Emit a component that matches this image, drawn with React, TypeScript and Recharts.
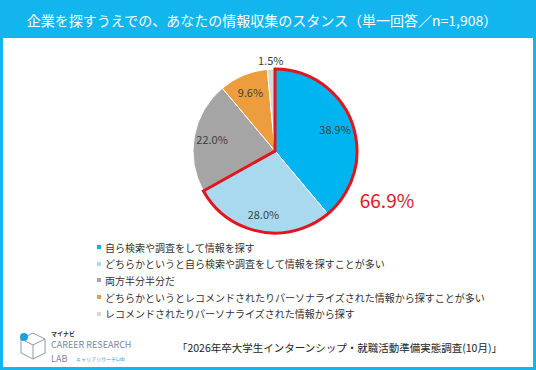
import React from "react";
import { PieChart, Pie, Cell, Legend } from "recharts";

const categories = [
  "自ら検索や調査をして情報を探す",
  "どちらかというと自ら検索や調査をして情報を探すことが多い",
  "両方半分半分だ",
  "どちらかというとレコメンドされたりパーソナライズされた情報から探すことが多い",
  "レコメンドされたりパーソナライズされた情報から探す",
];
const shares = [38.9, 28.0, 22.0, 9.6, 1.5];
const highlightShares = [66.9, 33.1];

const colors = ["#00B4F0", "#A8D9EF", "#A5A5A5", "#EE9D3E", "#D9D9D9"];
const CYAN = "#12B5EE";
const FONT = "'Noto Sans CJK JP', 'Noto Sans', sans-serif";
const RADIAN = Math.PI / 180;

const data = categories.map((name, i) => ({ name, value: shares[i] }));
const highlight = highlightShares.map((value, i) => ({ name: "h" + i, value }));

const renderLabel = (props: any) => {
  const { cx, cy, midAngle, outerRadius, value } = props;
  const r = value < 5 ? outerRadius + 9 : outerRadius * 0.78;
  const x = cx + r * Math.cos(-midAngle * RADIAN);
  const y = cy + r * Math.sin(-midAngle * RADIAN);
  return (
    <text
      x={x}
      y={y}
      fill="#404040"
      fontSize={11}
      fontFamily={FONT}
      textAnchor="middle"
      dominantBaseline="central"
    >
      {value.toFixed(1)}%
    </text>
  );
};

const LegendContent = () => (
  <div style={{ fontFamily: FONT, fontSize: 10, color: "#333" }}>
    {categories.map((c, i) => (
      <div
        key={c}
        style={{ display: "flex", alignItems: "center", height: 16.6 }}
      >
        <span
          style={{
            width: 4,
            height: 4,
            background: colors[i],
            marginRight: 4,
            display: "inline-block",
          }}
        />
        {c}
      </div>
    ))}
  </div>
);

const App = () => {
  return (
    <div
      style={{
        position: "absolute",
        left: 0,
        top: 0,
        width: 536,
        height: 370,
        boxSizing: "border-box",
        border: `3px solid ${CYAN}`,
        background: "#fff",
        overflow: "hidden",
      }}
    >
      <div
        style={{
          position: "absolute",
          left: -3,
          top: -3,
          width: 536,
          height: 38,
          background: CYAN,
          color: "#fff",
          fontFamily: FONT,
          fontSize: 14,
          lineHeight: "40px",
          textAlign: "center",
          paddingRight: 12,
          boxSizing: "border-box",
        }}
      >
        企業を探すうえでの、あなたの情報収集のスタンス（単一回答／n=1,908）
      </div>
      <div style={{ position: "absolute", left: -3, top: -3 }}>
        <PieChart width={536} height={370}>
          <Pie
            data={data}
            dataKey="value"
            cx={270}
            cy={146}
            outerRadius={82}
            startAngle={90}
            endAngle={-270}
            stroke="#fff"
            strokeWidth={1}
            label={renderLabel}
            labelLine={false}
            isAnimationActive={false}
          >
            {data.map((d, i) => (
              <Cell key={d.name} fill={colors[i]} />
            ))}
          </Pie>
          <Pie
            data={highlight}
            dataKey="value"
            cx={270}
            cy={146}
            outerRadius={82}
            startAngle={90}
            endAngle={-270}
            isAnimationActive={false}
          >
            <Cell fill="none" stroke="#E3141E" strokeWidth={3} />
            <Cell fill="none" stroke="none" />
          </Pie>
          <text
            x={387}
            y={208}
            fill="#E3141E"
            fontSize={19}
            fontFamily={FONT}
            textAnchor="middle"
          >
            {highlightShares[0].toFixed(1)}%
          </text>
          <Legend
            content={<LegendContent />}
            wrapperStyle={{ position: "absolute", left: 97, top: 239, width: 400 }}
          />
        </PieChart>
      </div>
      <svg
        width={120}
        height={38}
        style={{ position: "absolute", left: 15, top: 324 }}
      >
        <polygon
          points="15,6 27,12 27,26 15,32 3,26 3,12"
          fill="none"
          stroke="#8a9aa8"
          strokeWidth={1}
        />
        <polyline points="3,12 15,18 27,12" fill="none" stroke="#8a9aa8" />
        <line x1={15} y1={18} x2={15} y2={32} stroke="#8a9aa8" />
        <circle cx={6} cy={10} r={4} fill="#1E9FE0" />
        <text x={33} y={9} fontSize={6} fill="#333" fontFamily={FONT} fontWeight="bold">
          マイナビ
        </text>
        <text x={33} y={21} fontSize={9} fill="#7a8a98" fontFamily={FONT}>
          CAREER RESEARCH
        </text>
        <text x={33} y={35} fontSize={9} fill="#7a8a98" fontFamily={FONT}>
          LAB
        </text>
        <text x={58} y={34} fontSize={5} fill="#1E9FE0" fontFamily={FONT}>
          キャリアリサーチLab
        </text>
      </svg>
      <div
        style={{
          position: "absolute",
          right: 31,
          top: 337,
          fontFamily: FONT,
          fontSize: 10.5,
          color: "#222",
          whiteSpace: "nowrap",
        }}
      >
        「2026年卒大学生インターンシップ・就職活動準備実態調査(10月)」
      </div>
    </div>
  );
};

export default App;
